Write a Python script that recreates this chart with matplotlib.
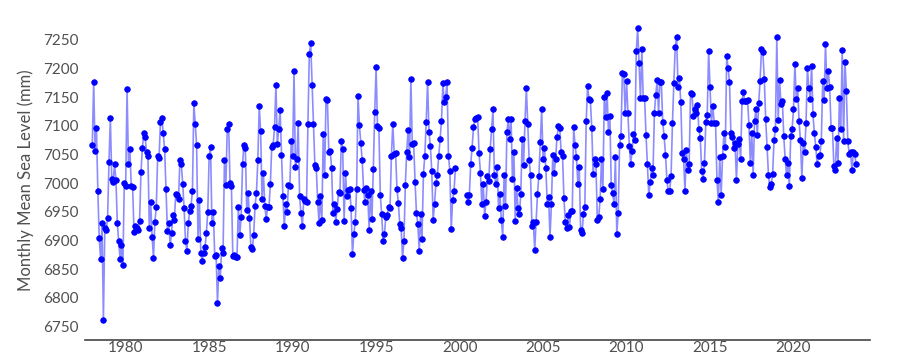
import numpy as np
import matplotlib
matplotlib.use("Agg")
import matplotlib.pyplot as plt

# Monthly mean sea level (mm), Jan 1978 onward.
# NaN marks the months with no data around the turn of 2000.
start_year = 1978
sea_level_1978_1985 = [
    7067, 7177, 7057, 7096, 6986, 6904, 6868, 6930, 6762, 6922, 6918, 6939,
    7037, 7113, 7008, 7003, 7033, 7006, 6930, 6900, 6868, 6893, 6857, 7000,
    6996, 7165, 7033, 7060, 6996, 6993, 6915, 6925, 6922, 6919, 6935, 7019,
    7061, 7087, 7080, 7054, 7048, 6922, 6967, 6907, 6870, 6933,
    6958, 7048, 7044, 7107, 7113, 7087, 7060, 6990, 6917, 6930, 6892, 6914,
    6945, 6936, 6982, 6979, 6972, 7041, 7033, 6999, 6956, 6900, 6882, 6930,
    6951, 6961, 6987, 7140, 7103, 7066, 6902, 6970, 6878, 6865, 6878, 6888,
    6913, 6950, 7047, 7064, 6930, 6950, 6874, 6875, 6792, 6856, 6835,
]
sea_level_1986_1993 = [
    6887, 6879, 7041, 6997, 7094, 7103, 7000, 6996, 6874, 6875, 6872, 6871,
    6958, 6909, 6942, 7033, 7066, 7061, 6953, 6983, 6940, 6888, 6885, 6909,
    6961, 6983, 7041, 7135, 7091, 6972, 7018, 6960, 6938, 6958, 6958, 6999,
    7064, 7066, 7098, 7172, 7068, 7095, 7128, 7050, 6978, 6926,
    6963, 6950, 6997, 6996, 7073, 7048, 7196, 7028, 7043, 7105, 6977, 6948,
    6925, 6972, 6969, 6968, 7104, 7226, 7244, 7172, 7103, 7031, 7026, 6968,
    6930, 6978, 6936, 7086, 7015, 7147, 7145, 7055, 7057, 7027, 6948, 6964,
    6933, 6955, 6985, 6983, 7074, 7060, 6935, 7018, 6978, 6989,
]
sea_level_1993_2000 = [
    6990, 6957, 6877, 6912, 6932, 6990, 7152, 7101, 7070, 7040, 6989, 6967,
    6992, 6980, 6919, 6986, 6937, 7025, 7124, 7202, 7099, 7096, 6980, 6946,
    6900, 6912, 6942, 6944, 6958, 6956, 7048, 7103, 7051, 7052, 6990, 6965,
    6929, 6922, 6870, 6899, 6997, 7055, 7093, 7046, 7182, 7069, 7070, 7003,
    6948, 6929, 6882, 6946, 6903, 7016, 7048, 7107, 7177, 7089, 7065, 7022,
    6936, 6964, 7000, 7014, 7048, 7077, 7109, 7175, 7141, 7151, 7177, 7048,
    7022, 6920, 6971, 6987, 7026,
    np.nan, np.nan, np.nan, np.nan, np.nan, np.nan, np.nan,
    6979, 6968, 6979, 7034, 7062, 7098, 7112, 7113,
]
sea_level_2001_2008 = [
    7115, 7052, 7018, 6964, 6999, 6943, 6967, 7012, 7004, 7060, 7094, 7129,
    7015, 6999, 7029, 6956, 6981, 6936, 6907, 7014, 6960, 7089, 7112, 7077,
    7112, 7007, 7055, 6935, 6992, 6957, 6946, 6982, 7077, 7032, 7108, 7166,
    7103, 7041, 7014, 6925, 6932, 6884, 6932, 6982, 7013, 7072, 7129, 7042,
    7061, 7026, 6964, 6976, 6906, 6964, 7050, 7018, 7042, 7080, 7099, 7096,
    7055, 7048, 6974, 6932, 6922, 6945, 6924, 6952, 6952, 7098, 7066, 7046,
    6999, 7029, 6918, 6913, 6946, 6958, 7108, 7169, 7147, 7145, 7096, 7016,
    7042, 7034, 6936, 6941, 6972, 7042, 6990, 7150, 7116,
]
sea_level_2009_2016 = [
    7158, 7090, 7118, 6997, 6983, 6964, 7046, 6911, 6948, 7066, 7083, 7192,
    7190, 7122, 7179, 7122, 7065, 7033, 7057, 7086, 7075, 7231, 7270, 7209,
    7148, 7234, 7148, 7148, 7084, 7033, 6980, 7002, 7026, 7015, 7122, 7154,
    7180, 7123, 7177, 7176, 7107, 7082, 7050, 7006, 6986, 6987, 7012, 7105,
    7175,
    7237, 7255, 7168, 7183, 7141, 7052, 7043, 6986, 7058, 7023, 7033, 7158,
    7156, 7118, 7129, 7123, 7136, 7094, 7079, 7021, 7007, 7035, 7107, 7119,
    7231, 7168, 7105, 7135, 7105, 7105, 7005, 6968, 7046, 6980, 7047, 7087,
    7064, 7222, 7201, 7176, 7087, 7080, 7061, 7070, 7005, 7069, 7077, 7042,
]
sea_level_2017_2023 = [
    7143, 7159, 7143, 7143, 7145, 7101, 7035, 7087, 7014, 7109, 7129, 7084,
    7140, 7179, 7234, 7228, 7182, 7112, 7063, 7015, 6993, 6999, 7016, 7075,
    7094, 7255, 7111, 7180, 7138, 7144, 7082, 7043, 7014, 7035, 6996, 7082,
    7094, 7129, 7208, 7147, 7166, 7108, 7075, 7009, 7070, 7054,
    7105, 7201, 7166, 7147, 7205, 7120, 7087, 7064, 7034, 7047, 7050, 7074,
    7178, 7145, 7243, 7166, 7195, 7168, 7096, 7096, 7030, 7023, 7079, 7036,
    7148, 7094, 7233, 7074, 7212, 7161, 7074, 7051, 7054, 7023, 7054, 7051,
    7033,
]

year_ticks = [1980, 1985, 1990, 1995, 2000, 2005, 2010, 2015, 2020]
level_ticks = [6750, 6800, 6850, 6900, 6950, 7000, 7050, 7100, 7150, 7200, 7250]

sea_level = np.array(sea_level_1978_1985 + sea_level_1986_1993 + sea_level_1993_2000
                     + sea_level_2001_2008 + sea_level_2009_2016 + sea_level_2017_2023,
                     dtype=float)
# one value per month
years = start_year + np.arange(len(sea_level)) / 12.0

plt.rcParams['font.family'] = ['Lato', 'DejaVu Sans']

fig = plt.figure(figsize=(9, 3.6), dpi=100)
ax = fig.add_axes([0.094, 0.056, 0.873, 0.889])

# light connecting line, solid markers on top
ax.plot(years, sea_level, '-', color='#0000ff', alpha=0.45, lw=1.2, zorder=2)
ax.plot(years, sea_level, 'o', color='#0000ff', ms=4.0, mec='#0000ff', mew=0.6, zorder=3)

ax.set_xlim(1977.54, 2024.6)
ax.set_ylim(6727, 7285)
ax.set_xticks(year_ticks)
ax.set_yticks(level_ticks)

for side in ['top', 'right', 'left']:
    ax.spines[side].set_visible(False)
ax.spines['bottom'].set_color('#444444')
ax.spines['bottom'].set_linewidth(1.2)

ax.tick_params(axis='y', length=0, pad=4, labelsize=11, labelcolor='#505050')
ax.tick_params(axis='x', length=0, pad=1, labelsize=11, labelcolor='#505050')
ax.set_ylabel('Monthly Mean Sea Level (mm)', fontsize=12, color='#505050', labelpad=7)

fig.savefig('out.png', dpi=100)
